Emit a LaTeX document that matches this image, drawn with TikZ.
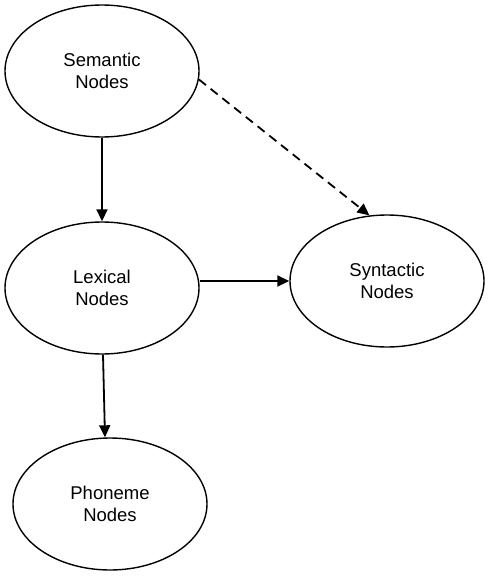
\documentclass[tikz,border=0pt]{standalone}
\usepackage{fontspec}
\setmainfont{Liberation Sans}
\usetikzlibrary{shapes.geometric,arrows.meta}
\begin{document}
\begin{tikzpicture}[x=1pt,y=-1pt,
  ell/.style={ellipse,draw,line width=1.4pt,minimum width=194pt,minimum height=132pt,inner sep=0pt,
    align=center,font=\fontsize{18.5}{22}\selectfont},
  arr/.style={line width=1.8pt,-{Triangle[length=12pt,width=11pt]}}]
\useasboundingbox (0,0) rectangle (490,578);
\node[ell] (sem) at (102,71) {Semantic\\Nodes};
\node[ell] (lex) at (102,288) {Lexical\\Nodes};
\node[ell] (pho) at (110,504) {Phoneme\\Nodes};
\node[ell] (syn) at (387,281) {Syntactic\\Nodes};
\draw[arr] (sem.south) -- (lex.north);
\draw[arr] ([xshift=1pt]lex.south) -- ([xshift=3pt]lex.south |- pho.north);
\draw[arr] (syn.west -| lex.east) -- (syn.west);
\draw[arr,dashed,dash pattern=on 9pt off 6pt] (sem.-5) -- (syn.105);
\end{tikzpicture}
\end{document}
